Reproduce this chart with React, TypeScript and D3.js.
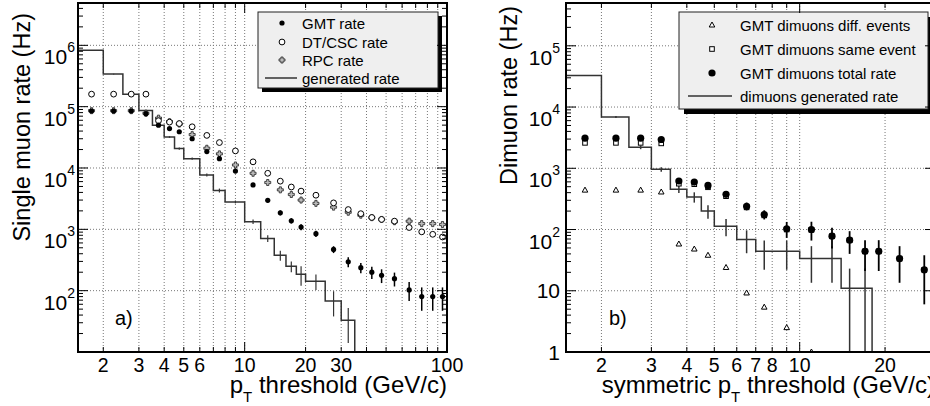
import React from "react";
import * as d3 from "d3";

const FONT = "'Liberation Sans', Arial, Helvetica, sans-serif";

// common pT binning (GeV/c)
const binEdges = [1.5, 2, 2.5, 3, 3.5, 4, 4.5, 5, 6, 7, 8, 10, 12, 14, 16, 18, 20, 25, 30, 35, 40, 45, 50, 60, 70, 80, 90, 100];
const binCenters = binEdges.slice(1).map((e, i) => (e + binEdges[i]) / 2);

// a) single muon rates (Hz)
const gmtRate = [8.5e4, 8.5e4, 8.5e4, 7.7e4, 5.0e4, 4.4e4, 3.9e4, 3.0e4, 1.85e4, 1.42e4, 8.9e3, 5.3e3, 2.97e3, 1.86e3, 1.38e3, 1.09e3, 850, 470, 295, 237, 200, 178, 157, 103, 80, 80, 80];
const gmtErr = [1.5e3, 1.5e3, 1.5e3, 1.5e3, 1.2e3, 1.1e3, 1e3, 800, 600, 500, 400, 300, 220, 170, 140, 120, 100, 60, 55, 45, 45, 45, 40, 35, 33, 33, 33];
const dtcscRate = [1.6e5, 1.6e5, 1.6e5, 1.6e5, 5.9e4, 5.6e4, 5.3e4, 4.7e4, 3.4e4, 2.6e4, 1.9e4, 1.26e4, 8.2e3, 6.1e3, 4.9e3, 4.2e3, 3.6e3, 2.7e3, 2.1e3, 1.8e3, 1.56e3, 1.45e3, 1.36e3, 1.07e3, 910, 830, 750];
const rpcRate = [8.6e4, 8.6e4, 8.6e4, 7.8e4, 6.5e4, 5.7e4, 5.2e4, 3.5e4, 2.1e4, 1.7e4, 1.12e4, 8.2e3, 5.8e3, 4.4e3, 3.7e3, 3.0e3, 2.65e3, 2.3e3, 1.9e3, 1.7e3, 1.55e3, 1.45e3, 1.33e3, 1.36e3, 1.24e3, 1.24e3, 1.2e3];
const genSingle = [8.3e5, 3.4e5, 1.6e5, 8.7e4, 5.0e4, 3.2e4, 2.07e4, 1.42e4, 7.7e3, 4.3e3, 2.8e3, 1.33e3, 710, 377, 250, 185, 143, 68, 33];
const genSingleErr = [6e3, 4e3, 2.5e3, 1.8e3, 1.4e3, 1.1e3, 900, 600, 450, 320, 150, 110, 90, 70, 50, 65, 40, 30, 19];

// b) dimuon rates (Hz)
const diffEvents = [440, 440, 440, 410, 58, 48, 38, 24, 9.2, 5.4, 2.5, 1.0];
const sameEvent = [2.6e3, 2.6e3, 2.6e3, 2.55e3, 560, 550, 490, 350, 230, 170, 100, 99, 78, 67, 44, 44, 33.5, 22];
const totalRate = [3.1e3, 3.1e3, 3.1e3, 2.95e3, 620, 595, 525, 375, 240, 176, 103, 100, 78, 67, 44, 44, 33.5, 22];
const totalErr = [60, 60, 60, 60, 25, 25, 25, 25, 35, 30, 30, 34, 29, 27, 23, 23, 20, 16];
const genDimuon = [3.26e4, 6.9e3, 2.2e3, 960, 453, 340, 200, 113, 69, 44, 44, 33.5, 33.5, 11, 11];
const genDimuonErr = [600, 250, 150, 80, 60, 65, 50, 35, 28, 22, 22, 20, 20, 12, 12];

// axis ticks / labels
const xTicksA = [2, 3, 4, 5, 6, 7, 8, 9, 10, 20, 30, 40, 50, 60, 70, 80, 90, 100];
const xLabelsA = [2, 3, 4, 5, 6, 10, 20, 30, 100];
const xTicksB = [2, 3, 4, 5, 6, 7, 8, 9, 10, 20, 30];
const xLabelsB = [2, 3, 4, 5, 6, 7, 8, 10, 20];
const yExpA = [2, 3, 4, 5, 6];
const yExpB = [0, 1, 2, 3, 4, 5];

const legendA = ["GMT rate", "DT/CSC rate", "RPC rate", "generated rate"];
const legendB = ["GMT dimuons diff. events", "GMT dimuons same event", "GMT dimuons total rate", "dimuons generated rate"];

const HIST = "#333";

function histPath(edges, values, x, y, yFloor) {
  const p = d3.path();
  values.forEach((v, i) => {
    if (i === 0) p.moveTo(x(edges[0]), y(v));
    else p.lineTo(x(edges[i]), y(v));
    p.lineTo(x(edges[i + 1]), y(v));
  });
  p.lineTo(x(edges[values.length]), y(yFloor));
  return p.toString();
}

function errBars(values, errs, x, y, yFloor, color = "#000", w = 1.5) {
  return values.map((v, i) => (
    <line key={"e" + i} x1={x(binCenters[i])} x2={x(binCenters[i])}
      y1={y(v + errs[i])} y2={y(Math.max(v - errs[i], yFloor))}
      stroke={color} strokeWidth={w} />
  ));
}

const Dot = ({ cx, cy, r = 2.6 }) => <circle cx={cx} cy={cy} r={r} fill="#000" />;
const OpenCircle = ({ cx, cy }) => <circle cx={cx} cy={cy} r={2.9} fill="#fff" stroke="#000" strokeWidth={1} />;
const Cross = ({ cx, cy }) => {
  const a = 3, b = 1.1;
  const pts = [[-b, -a], [b, -a], [b, -b], [a, -b], [a, b], [b, b], [b, a], [-b, a], [-b, b], [-a, b], [-a, -b], [-b, -b]];
  return <polygon points={pts.map(([px, py]) => `${cx + px},${cy + py}`).join(" ")} fill="#bbb" stroke="#222" strokeWidth={0.8} />;
};
const Tri = ({ cx, cy }) => (
  <polygon points={`${cx},${cy - 3} ${cx + 2.8},${cy + 2} ${cx - 2.8},${cy + 2}`} fill="#fff" stroke="#000" strokeWidth={1} />
);
const Sq = ({ cx, cy }) => <rect x={cx - 2.3} y={cy - 2.3} width={4.6} height={4.6} fill="#fff" stroke="#000" strokeWidth={1} />;

function Axes({ fr, x, y, xTicks, xLabels, yExp, labelX, clipId, children }) {
  const [y0, y1] = y.domain();
  const decades = d3.range(Math.floor(Math.log10(y0)), Math.ceil(Math.log10(y1)) + 1);
  const yMajor = decades.map((e) => 10 ** e).filter((v) => v >= y0 && v <= y1);
  const yMinor = decades.flatMap((e) => d3.range(2, 10).map((k) => k * 10 ** e)).filter((v) => v > y0 && v < y1);
  const [x0, x1] = x.domain();
  const inner = xTicks.filter((v) => v > x0 && v < x1);
  const major = (v) => Math.abs(Math.log10(v) - Math.round(Math.log10(v))) < 1e-9;
  return (
    <g fontFamily={FONT}>
      <defs>
        <clipPath id={clipId}>
          <rect x={fr.left} y={fr.top} width={fr.right - fr.left} height={fr.bottom - fr.top} />
        </clipPath>
      </defs>
      <rect x={fr.left} y={fr.top} width={fr.right - fr.left} height={fr.bottom - fr.top} fill="#fff" />
      {/* grid */}
      {inner.map((v) => (
        <line key={"gx" + v} x1={x(v)} x2={x(v)} y1={fr.top} y2={fr.bottom} stroke="#777" strokeDasharray="1,2" />
      ))}
      {yMajor.filter((v) => v > y0 && v < y1).map((v) => (
        <line key={"gy" + v} x1={fr.left} x2={fr.right} y1={y(v)} y2={y(v)} stroke="#777" strokeDasharray="1,2" />
      ))}
      <g clipPath={`url(#${clipId})`}>{children}</g>
      {/* ticks */}
      {inner.map((v) => {
        const len = major(v) ? 10 : 5;
        return (
          <g key={"tx" + v}>
            <line x1={x(v)} x2={x(v)} y1={fr.bottom} y2={fr.bottom - len} stroke="#000" />
            <line x1={x(v)} x2={x(v)} y1={fr.top} y2={fr.top + len} stroke="#000" />
          </g>
        );
      })}
      {yMajor.concat(yMinor).map((v) => {
        const len = yMajor.includes(v) ? 10 : 5;
        return (
          <g key={"ty" + v}>
            <line x1={fr.left} x2={fr.left + len} y1={y(v)} y2={y(v)} stroke="#000" />
            <line x1={fr.right} x2={fr.right - len} y1={y(v)} y2={y(v)} stroke="#000" />
          </g>
        );
      })}
      <rect x={fr.left} y={fr.top} width={fr.right - fr.left} height={fr.bottom - fr.top} fill="none" stroke="#000" strokeWidth={2} />
      {/* tick labels */}
      {xLabels.map((v) => (
        <text key={"lx" + v} x={x(v)} y={372} fontSize={19.5} textAnchor="middle">{v}</text>
      ))}
      {yExp.map((e) =>
        e >= 2 ? (
          <text key={"ly" + e} x={labelX} y={y(10 ** e) + 19} textAnchor="end" fontSize={21}>
            10<tspan fontSize={14} dy={-12}>{e}</tspan>
          </text>
        ) : (
          <text key={"ly" + e} x={labelX} y={y(10 ** e) + 7.5} textAnchor="end" fontSize={21}>
            {10 ** e}
          </text>
        )
      )}
    </g>
  );
}

function Legend({ box, shadow, rows, markerX, textX, labels, markers }) {
  return (
    <g fontFamily={FONT}>
      <rect x={box.x + shadow} y={box.y + shadow} width={box.w} height={box.h} fill="#000" />
      <rect x={box.x} y={box.y} width={box.w} height={box.h} fill="#efefef" stroke="#222" strokeWidth={1} />
      {labels.map((t, i) => (
        <g key={t}>
          {markers[i](markerX, rows[i])}
          <text x={textX} y={rows[i] + 5.5} fontSize={15}>{t}</text>
        </g>
      ))}
    </g>
  );
}

export default function App() {
  const frA = { left: 78, right: 447, top: 3, bottom: 352 };
  const frB = { left: 566, right: 935, top: 3, bottom: 352 };
  const xA = d3.scaleLog().domain([1.5, 100]).range([frA.left, frA.right]);
  const yA = d3.scaleLog().domain([10, 4.9e6]).range([frA.bottom, frA.top]);
  const xB = d3.scaleLog().domain([1.5, 30]).range([frB.left, frB.right]);
  const yB = d3.scaleLog().domain([1, 5e5]).range([frB.bottom, frB.top]);

  return (
    <div style={{ position: "absolute", left: 0, top: 0 }}>
      <svg width={930} height={406} style={{ display: "block", background: "#fff" }}>
        {/* panel a */}
        <Axes fr={frA} x={xA} y={yA} xTicks={xTicksA} xLabels={xLabelsA} yExp={yExpA} labelX={75} clipId="clipA">
          <path d={histPath(binEdges, genSingle, xA, yA, 10)} fill="none" stroke={HIST} strokeWidth={1.5} />
          {errBars(genSingle, genSingleErr, xA, yA, 10, HIST, 1.2)}
          {rpcRate.map((v, i) => <Cross key={"r" + i} cx={xA(binCenters[i])} cy={yA(v)} />)}
          {dtcscRate.map((v, i) => <OpenCircle key={"o" + i} cx={xA(binCenters[i])} cy={yA(v)} />)}
          {errBars(gmtRate, gmtErr, xA, yA, 10)}
          {gmtRate.map((v, i) => <Dot key={"g" + i} cx={xA(binCenters[i])} cy={yA(v)} />)}
          <Legend
            box={{ x: 258, y: 12, w: 180, h: 76 }} shadow={4} rows={[23, 42, 60, 78]} markerX={282} textX={302}
            labels={legendA}
            markers={[
              (mx, my) => <Dot cx={mx} cy={my} />,
              (mx, my) => <OpenCircle cx={mx} cy={my} />,
              (mx, my) => <Cross cx={mx} cy={my} />,
              (mx, my) => <line x1={265} x2={297} y1={my} y2={my} stroke={HIST} strokeWidth={1.5} />,
            ]}
          />
          <text x={115} y={325} fontSize={20} fontFamily={FONT}>a)</text>
        </Axes>
        <text transform="translate(30,13) rotate(-90)" textAnchor="end" fontSize={23.5} fontFamily={FONT}>Single muon rate (Hz)</text>
        <text x={447} y={393} textAnchor="end" fontSize={24} fontFamily={FONT}>
          p<tspan fontSize={15} dy={9}>T</tspan><tspan dy={-9}> threshold (GeV/c)</tspan>
        </text>

        {/* panel b */}
        <Axes fr={frB} x={xB} y={yB} xTicks={xTicksB} xLabels={xLabelsB} yExp={yExpB} labelX={560} clipId="clipB">
          <path d={histPath(binEdges, genDimuon, xB, yB, 1)} fill="none" stroke={HIST} strokeWidth={1.5} />
          {errBars(genDimuon, genDimuonErr, xB, yB, 1, HIST, 1.5)}
          {diffEvents.map((v, i) => <Tri key={"t" + i} cx={xB(binCenters[i])} cy={yB(v)} />)}
          {sameEvent.map((v, i) => <Sq key={"s" + i} cx={xB(binCenters[i])} cy={yB(v)} />)}
          {errBars(totalRate, totalErr, xB, yB, 1, "#000", 1.8)}
          {totalRate.map((v, i) => <Dot key={"d" + i} cx={xB(binCenters[i])} cy={yB(v)} r={3.6} />)}
          <Legend
            box={{ x: 679, y: 12, w: 249, h: 97 }} shadow={5} rows={[25, 49, 73, 96]} markerX={712} textX={740}
            labels={legendB}
            markers={[
              (mx, my) => <Tri cx={mx} cy={my} />,
              (mx, my) => <Sq cx={mx} cy={my} />,
              (mx, my) => <Dot cx={mx} cy={my} r={3.6} />,
              (mx, my) => <line x1={688} x2={732} y1={my} y2={my} stroke={HIST} strokeWidth={1.5} />,
            ]}
          />
          <text x={609} y={325} fontSize={20} fontFamily={FONT}>b)</text>
        </Axes>
        <text transform="translate(517,6) rotate(-90)" textAnchor="end" fontSize={23.5} fontFamily={FONT}>Dimuon rate (Hz)</text>
        <text x={935} y={393} textAnchor="end" fontSize={24} fontFamily={FONT}>
          symmetric p<tspan fontSize={15} dy={9}>T</tspan><tspan dy={-9}> threshold (GeV/c)</tspan>
        </text>
      </svg>
    </div>
  );
}
